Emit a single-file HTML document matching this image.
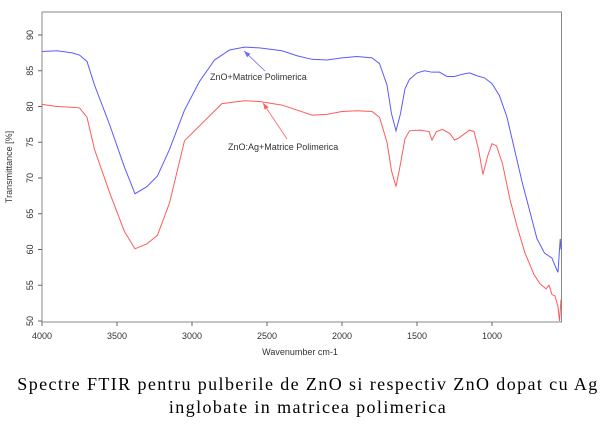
<!DOCTYPE html>
<html><head><meta charset="utf-8"><style>
body{margin:0;width:604px;height:429px;background:#fff;overflow:hidden}
svg{position:absolute;left:0;top:0}
.t{font-family:"Liberation Sans",sans-serif;font-size:9px;fill:#333}
.cap{position:absolute;left:6px;width:604px;text-align:center;font-family:"Liberation Serif",serif;font-size:18px;color:#000;white-space:nowrap}
</style></head><body>
<svg id="chart" width="604" height="370"></svg>
<div class="cap" style="top:374px;letter-spacing:1.4px">Spectre FTIR pentru pulberile de ZnO si respectiv ZnO dopat cu Ag</div>
<div class="cap" style="top:397px;letter-spacing:1.4px">inglobate in matricea polimerica</div>
<script>
const xTicks=[4000,3500,3000,2500,2000,1500,1000];
const yTicks=[50,55,60,65,70,75,80,85,90];
const blueWn=[4000,3900,3800,3750,3700,3650,3550,3450,3380,3300,3230,3150,3050,2950,2850,2750,2650,2550,2400,2300,2200,2100,2000,1900,1800,1750,1700,1670,1640,1610,1580,1550,1500,1450,1400,1350,1300,1250,1200,1150,1100,1050,1000,950,900,850,800,750,700,650,600,575,560,550,545,540];
const blueT=[87.7,87.8,87.5,87.2,86.3,83,77.5,71.5,67.8,68.8,70.3,74,79.5,83.5,86.5,87.9,88.3,88.2,87.8,87.1,86.6,86.5,86.8,87.0,86.8,86.0,83,79,76.6,79,82.5,83.8,84.7,85.0,84.8,84.8,84.2,84.2,84.5,84.7,84.3,84.0,83.2,81.5,78.5,74,69.5,65.5,61.5,59.5,58.8,57.5,56.8,60,61.5,60];
const redWn=[4000,3900,3800,3750,3700,3650,3550,3450,3380,3300,3230,3150,3050,2950,2800,2650,2550,2400,2300,2200,2100,2000,1900,1800,1750,1700,1670,1640,1610,1580,1550,1480,1420,1400,1370,1330,1280,1250,1220,1150,1120,1090,1060,1030,1000,970,930,880,830,780,720,680,640,620,600,580,560,550,540];
const redT=[80.3,80.0,79.9,79.8,78.5,74,68,62.5,60.1,60.8,62,66.5,75.2,77.3,80.4,80.8,80.7,80.2,79.5,78.8,78.9,79.3,79.4,79.3,78.5,75,71,68.8,72,75.5,76.6,76.7,76.5,75.3,76.5,76.8,76.2,75.3,75.6,76.7,76.5,74,70.5,73,74.8,74.5,72,67,63,59.5,56.5,55.2,54.5,55.0,53.7,53.5,52,50,53];
const svg=document.getElementById('chart');const NS='http://www.w3.org/2000/svg';
const X=w=>42+(4000-w)*0.15; const Y=v=>35+(90-v)*7.15;
function mk(tag,attrs,parent){const e=document.createElementNS(NS,tag);for(const k in attrs)e.setAttribute(k,attrs[k]);(parent||svg).appendChild(e);return e;}
const frame=mk('rect',{x:42,y:12,width:519.5,height:310,fill:'#fff',stroke:'#888','stroke-width':1});


xTicks.forEach(w=>{
 const l=mk('line',{x1:X(w),x2:X(w),y1:322,y2:326,stroke:'#666'});
 
 
 const t=mk('text',{x:X(w),y:339,'text-anchor':'middle',class:'t'});t.textContent=w;
 
 
});
yTicks.forEach(v=>{
 const l=mk('line',{x1:38,x2:42,y1:Y(v),y2:Y(v),stroke:'#666'});
 
 
 const t=mk('text',{x:33,y:Y(v),'text-anchor':'middle',class:'t',transform:`rotate(-90 33 ${Y(v)})`});t.textContent=v;
 
 
});
const yt=mk('text',{x:12,y:167,'text-anchor':'middle',class:'t',transform:'rotate(-90 12 167)'});yt.textContent='Transmittance [%]';


const xt=mk('text',{x:300,y:355,'text-anchor':'middle',class:'t'});xt.textContent='Wavenumber cm-1';


function line(wn,t,c,name){const p=mk('polyline',{points:wn.map((w,i)=>X(w)+','+Y(t[i])).join(' '),fill:'none',stroke:c,'stroke-width':1});
 
 }
line(blueWn,blueT,'#5a5aff','series-zno');
line(redWn,redT,'#ff5a5a','series-zno-ag');
function ann(x1,y1,x2,y2,c,tx,ty,txt,name){
 mk('line',{x1,y1,x2,y2,stroke:c,'stroke-width':0.8});
 const a=Math.atan2(y2-y1,x2-x1);
 mk('polygon',{points:`${x2},${y2} ${x2-7*Math.cos(a-0.35)},${y2-7*Math.sin(a-0.35)} ${x2-7*Math.cos(a+0.35)},${y2-7*Math.sin(a+0.35)}`,fill:c});
 const t=mk('text',{x:tx,y:ty,class:'t'});t.textContent=txt;
 
 
}
ann(265,71,244,51,'#6a6aff',210,80,'ZnO+Matrice Polimerica','label-zno');
ann(287,139,263,103,'#ff6060',228,150,'ZnO:Ag+Matrice Polimerica','label-zno-ag');
</script>
</body></html>
